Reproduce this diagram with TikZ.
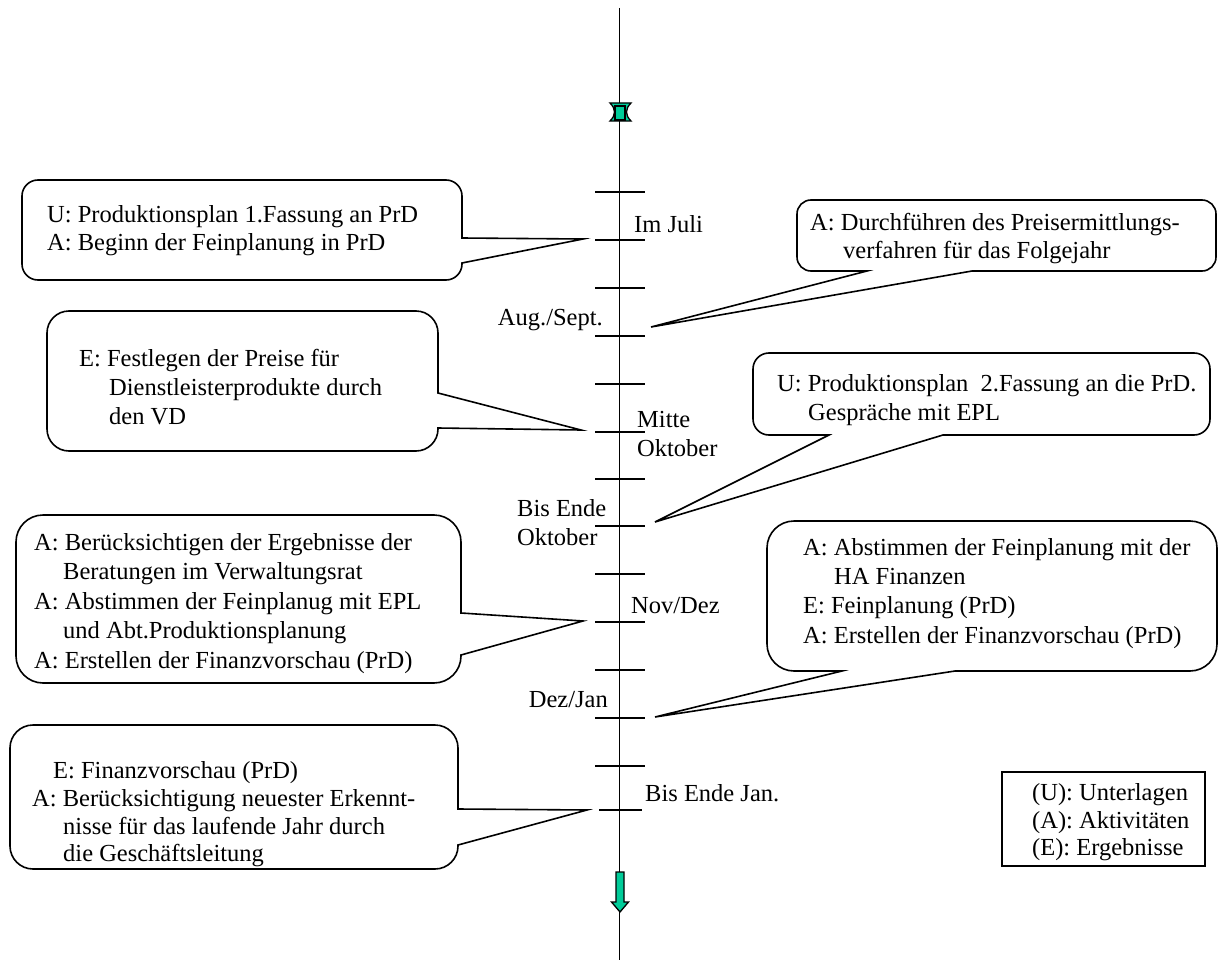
\documentclass[tikz,border=0pt]{standalone}
\usepackage{fontspec}
\setmainfont{Liberation Serif}
\definecolor{markteal}{RGB}{0,204,153}
% right-pointing wedge callout: x1 y1 x2 y2 r b1 b2 tipx tipy
\newcommand\calloutRight[9]{%
 \draw[cbox] ({#1+#5},#2) -- ({#3-#5},#2) .. controls ({#3-0.448*#5},#2) and (#3,{#2+0.448*#5}) .. (#3,{#2+#5})
  -- (#3,#6) -- (#8,#9) -- (#3,#7)
  -- (#3,{#4-#5}) .. controls (#3,{#4-0.448*#5}) and ({#3-0.448*#5},#4) .. ({#3-#5},#4)
  -- ({#1+#5},#4) .. controls ({#1+0.448*#5},#4) and (#1,{#4-0.448*#5}) .. (#1,{#4-#5})
  -- (#1,{#2+#5}) .. controls (#1,{#2+0.448*#5}) and ({#1+0.448*#5},#2) .. ({#1+#5},#2) -- cycle;}
% bottom wedge callout: x1 y1 x2 y2 r bx1 bx2 tipx tipy
\newcommand\calloutBottom[9]{%
 \draw[cbox] ({#1+#5},#2) -- ({#3-#5},#2) .. controls ({#3-0.448*#5},#2) and (#3,{#2+0.448*#5}) .. (#3,{#2+#5})
  -- (#3,{#4-#5}) .. controls (#3,{#4-0.448*#5}) and ({#3-0.448*#5},#4) .. ({#3-#5},#4)
  -- (#7,#4) -- (#8,#9) -- (#6,#4)
  -- ({#1+#5},#4) .. controls ({#1+0.448*#5},#4) and (#1,{#4-0.448*#5}) .. (#1,{#4-#5})
  -- (#1,{#2+#5}) .. controls (#1,{#2+0.448*#5}) and ({#1+0.448*#5},#2) .. ({#1+#5},#2) -- cycle;}
\begin{document}
\begin{tikzpicture}[x=1pt,y=-1pt,
  cbox/.style={draw=black,line width=1.6pt,fill=white,line join=miter},
  axisline/.style={line width=1.6pt},
  txt/.style={font=\fontsize{24.5}{28}\selectfont,inner sep=0pt,anchor=base west},
  txr/.style={txt,anchor=base east},
  mk/.style={fill=markteal,draw=black,line width=1.3pt,line join=miter}]
\useasboundingbox (0,0) rectangle (1219,974);
\fill[white] (0,0) rectangle (1219,974);
% time axis
\coordinate (axtop) at (619.5,8);
\coordinate (axbot) at (619.5,960);
\draw[axisline] (axtop) -- (axbot);
\foreach \t in {192,240,288,336,384,432,479,526,574,622,670,718,766}
  \draw[axisline] (595,\t) -- (645,\t);
\draw[axisline] (599,810) -- (642,810);
% top marker
\draw[mk] (610,103) -- (631,103) .. controls (625,109) and (625,115) .. (631,121) -- (610,121) .. controls (616,115) and (616,109) .. (610,103) -- cycle;
\draw[mk] (615,106) rectangle (625,120);
% bottom arrow
\draw[mk] (616,872) -- (624,872) -- (624,902) -- (628.5,902) -- (620,912) -- (611.5,902) -- (616,902) -- cycle;
% callouts
\calloutRight{22}{180}{462}{280}{16}{238}{263}{583}{239}
\calloutBottom{797}{200}{1216}{271}{14}{867}{972}{651}{327}
\calloutRight{47}{311}{438}{451}{22}{393}{428}{581}{430}
\calloutBottom{753}{353}{1210}{435}{16}{829}{943}{655}{522}
\calloutRight{16}{515}{461}{683}{27}{613}{655}{583}{621}
\calloutBottom{767}{521}{1217}{671}{27}{842}{955}{655}{717}
\calloutRight{10}{725}{458}{869}{23}{809}{845}{587}{810}
% callout texts
\node[txt] (c1a) at (47,222) {U: Produktionsplan 1.Fassung an PrD};
\node[txt] (c1b) at (47,250) {A: Beginn der Feinplanung in PrD};
\node[txt] (c2a) at (810,230) {A: Durchführen des Preisermittlungs-};
\node[txt] (c2b) at (843,258) {verfahren für das Folgejahr};
\node[txt] (c3a) at (79,366) {E: Festlegen der Preise für};
\node[txt] (c3b) at (109,395) {Dienstleisterprodukte durch};
\node[txt] (c3c) at (109,424) {den VD};
\node[txt] (c4a) at (777,391) {U: Produktionsplan~ 2.Fassung an die PrD.};
\node[txt] (c4b) at (808,420) {Gespräche mit EPL};
\node[txt] (c5a) at (34,550) {A: Berücksichtigen der Ergebnisse der};
\node[txt] (c5b) at (63,579) {Beratungen im Verwaltungsrat};
\node[txt] (c5c) at (34,609) {A: Abstimmen der Feinplanug mit EPL};
\node[txt] (c5d) at (63,638) {und Abt.Produktionsplanung};
\node[txt] (c5e) at (34,668) {A: Erstellen der Finanzvorschau (PrD)};
\node[txt] (c6a) at (803,555) {A: Abstimmen der Feinplanung mit der};
\node[txt] (c6b) at (834,584) {HA Finanzen};
\node[txt] (c6c) at (803,613) {E: Feinplanung (PrD)};
\node[txt] (c6d) at (803,643) {A: Erstellen der Finanzvorschau (PrD)};
\node[txt] (c7a) at (53,778) {E: Finanzvorschau (PrD)};
\node[txt] (c7b) at (32,806) {A: Berücksichtigung neuester Erkennt-};
\node[txt] (c7c) at (63,834) {nisse für das laufende Jahr durch};
\node[txt] (c7d) at (63,861) {die Geschäftsleitung};
% time labels
\node[txt] (t1) at (634,232) {Im Juli};
\node[txr] (t2) at (603,325) {Aug./Sept.};
\node[txt] (t3a) at (637,427) {Mitte};
\node[txt] (t3b) at (637,456) {Oktober};
\node[txt] (t4a) at (517,516) {Bis Ende};
\node[txt] (t4b) at (517,545) {Oktober};
\node[txt] (t5) at (631,613) {Nov/Dez};
\node[txr] (t6) at (608,707) {Dez/Jan};
\node[txt] (t7) at (645,801) {Bis Ende Jan.};
% legend
\draw[line width=1.6pt] (1002,772) rectangle (1205,866);
\node[txt] (l1) at (1032,800) {(U): Unterlagen};
\node[txt] (l2) at (1032,828) {(A): Aktivitäten};
\node[txt] (l3) at (1032,855) {(E): Ergebnisse};
\end{tikzpicture}
\end{document}
